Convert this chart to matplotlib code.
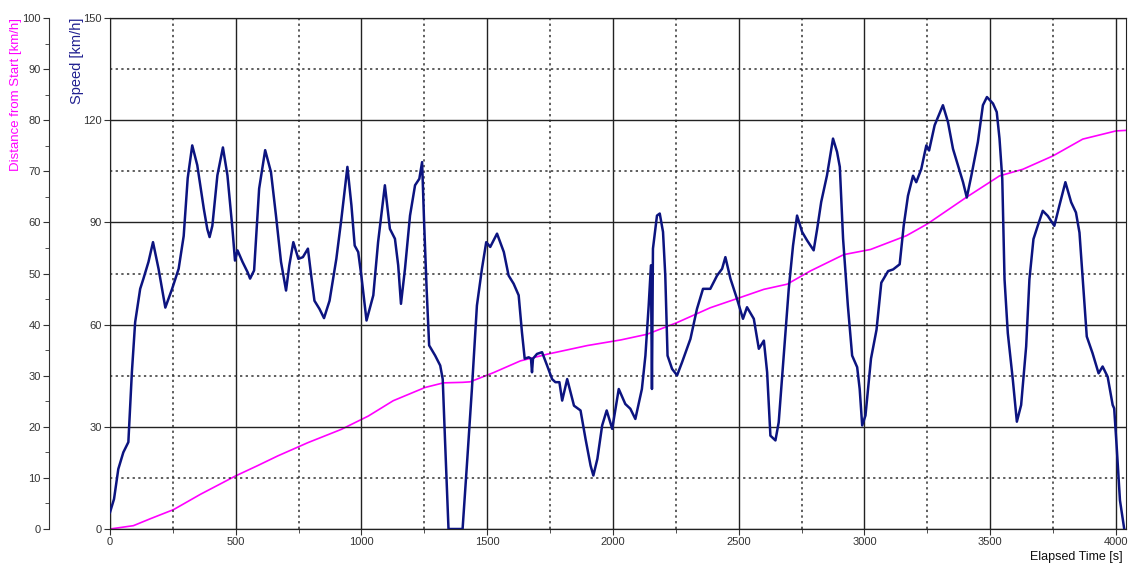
import numpy as np
import matplotlib.pyplot as plt
from matplotlib.ticker import MultipleLocator

plt.rcParams['font.family'] = ['Liberation Sans', 'DejaVu Sans']

# speed trace [s], [km/h]
t_speed = [0, 16, 33, 53, 73, 87, 100, 120, 133, 153, 171, 193, 220, 247, 273, 293, 309, 327, 347,
           373, 387, 396, 407, 427, 449, 467, 487, 497, 507, 527, 547, 557, 573, 593, 617, 640,
           660, 680, 700, 713, 729, 749, 767, 787, 800, 813, 833, 851, 873, 900, 920, 944, 960,
           973, 987, 1000, 1020, 1047, 1066, 1093, 1113, 1133, 1146, 1157, 1173, 1193, 1213,
           1230, 1241, 1249, 1259, 1269, 1293, 1313, 1323, 1332, 1346, 1402, 1419, 1439, 1459,
           1479, 1496, 1512, 1539, 1566, 1585, 1605, 1625, 1638, 1649, 1665, 1674, 1678, 1682,
           1698, 1718, 1738, 1758, 1771, 1787, 1798, 1818, 1845, 1871, 1891, 1911, 1922, 1938,
           1957, 1975, 1997, 2023, 2049, 2069, 2089, 2115, 2129, 2142, 2151, 2155, 2159, 2175,
           2186, 2199, 2208, 2217, 2235, 2255, 2275, 2308, 2334, 2358, 2387, 2414, 2434, 2447,
           2467, 2493, 2517, 2533, 2560, 2580, 2600, 2613, 2626, 2646, 2659, 2679, 2699, 2716,
           2732, 2752, 2772, 2798, 2812, 2828, 2851, 2875, 2891, 2902, 2915, 2934, 2951, 2971,
           2981, 2991, 3004, 3026, 3048, 3067, 3094, 3114, 3140, 3156, 3173, 3193, 3206, 3226,
           3246, 3257, 3279, 3312, 3332, 3352, 3372, 3392, 3407, 3425, 3451, 3471, 3487, 3511,
           3526, 3537, 3548, 3557, 3570, 3590, 3606, 3623, 3643, 3656, 3672, 3689, 3709, 3729,
           3755, 3775, 3799, 3822, 3841, 3855, 3868, 3884, 3907, 3931, 3947, 3967, 3987, 3993,
           4003, 4016, 4033]
speed = [4.9, 8.8, 17.6, 22.5, 25.5, 46, 60.7, 70.5, 73.5, 78.4, 84.2, 76.4, 65, 70.5, 76.4, 86,
         103, 112.6, 106.8, 94, 88, 85.7, 89, 103.8, 112, 103.8, 88, 78.8, 81.8, 78.4, 75.4, 73.5,
         75.9, 99.9, 111.2, 104.8, 92, 78.4, 70, 77.4, 84.2, 79.3, 79.8, 82.3, 74.4, 67, 64.6, 61.9,
         67, 79.3, 91, 106.3, 95, 83.2, 81.3, 74, 61.2, 68.6, 84.2, 100.9, 88.1, 85.2, 77.4, 66.1,
         76.4, 92, 100.9, 102.8, 107.7, 90, 70.5, 53.9, 50.9, 48, 44, 26.4, 0, 0, 18.6, 41, 65.6,
         76.4, 84.2, 82.8, 86.7, 81.3, 74.4, 72, 68.6, 57.8, 50, 50.4, 50, 46, 50, 51.4, 51.9, 48,
         44, 43.1, 43.1, 37.7, 44, 36.2, 34.8, 26.4, 18.6, 15.7, 20.6, 30.4, 34.8, 29.4, 41.1,
         36.7, 35.3, 32.3, 41.1, 50.9, 65.6, 77.4, 41.1, 82.3, 92, 92.6, 87.2, 74.4, 50.9, 47,
         45.1, 49, 55.8, 64.6, 70.5, 70.5, 74.4, 76.4, 79.8, 73.5, 67.6, 61.7, 65.1, 61.7, 52.9,
         55.3, 46, 27.4, 26, 31.3, 50.9, 70.5, 83.2, 92, 87.2, 84.7, 81.8, 88.1, 96, 103.8, 114.6,
         110.7, 106.3, 85.2, 65.6, 50.9, 47.5, 41.1, 30.4, 33.3, 50, 58.5, 72.3, 75.7, 76.2, 77.7,
         89, 97.8, 103.7, 101.8, 105.7, 112.6, 111.1, 118.5, 124.4, 119.5, 111.6, 106.7, 101.8,
         97.3, 103.7, 113.6, 124.4, 126.8, 124.9, 122.4, 114.6, 102.8, 73.3, 57.5, 43.8, 31.5,
         36.4, 53.6, 73.3, 85.1, 89, 93.4, 91.9, 89, 94.9, 101.8, 95.9, 92.9, 87, 73.3, 56.5,
         51.6, 45.7, 47.7, 44.7, 36.4, 35.4, 24.1, 8.4, 0]

# distance from start
t_dist = [0, 93, 160, 253, 360, 500, 587, 667, 787, 920, 1027, 1126, 1253, 1326, 1402, 1432,
          1525, 1632, 1738, 1898, 2031, 2135, 2255, 2387, 2500, 2600, 2692, 2785, 2918, 3024,
          3167, 3250, 3405, 3537, 3630, 3749, 3868, 4000, 4037]
dist = [0, 0.65, 2, 3.8, 6.8, 10.4, 12.4, 14.3, 16.9, 19.5, 22.1, 25.1, 27.7, 28.6, 28.7, 28.8,
        30.6, 32.9, 34.2, 35.9, 37, 38.1, 40.4, 43.3, 45.2, 46.9, 47.9, 50.5, 53.7, 54.7,
        57.4, 59.7, 64.9, 69.1, 70.4, 73, 76.3, 77.9, 78]

W, H = 1129, 567
fig = plt.figure(figsize=(W / 100, H / 100), dpi=100)
ax = fig.add_axes([110 / W, 38 / H, 1016 / W, 511 / H])
ax2 = ax.twinx()

txt = '#333333'
ax.set_xlim(0, 4040)
ax.set_ylim(0, 150)
ax.xaxis.set_major_locator(MultipleLocator(500))
ax.xaxis.set_minor_locator(MultipleLocator(250))
ax.yaxis.set_major_locator(MultipleLocator(30))
ax.yaxis.set_minor_locator(MultipleLocator(15))
ax.grid(which='major', color='#222222', lw=1.0, ls='-')
ax.grid(which='minor', color='#333333', lw=1.1, ls=(0, (1.5, 2.2)))
ax.set_axisbelow(True)
ax.tick_params(which='major', length=4, labelsize=8, colors=txt, pad=2)
ax.tick_params(axis='x', which='minor', length=3, color=txt)
ax.tick_params(axis='y', which='minor', length=0)
for s in ax.spines.values():
    s.set_color('#222222')

ax2.set_ylim(0, 100)
ax2.yaxis.set_ticks_position('left')
ax2.spines['left'].set_position(('outward', 61 * 0.72))
ax2.spines['left'].set_color(txt)
ax2.spines['right'].set_visible(False)
ax2.yaxis.set_major_locator(MultipleLocator(10))
ax2.yaxis.set_minor_locator(MultipleLocator(5))
ax2.tick_params(which='major', length=4, labelsize=8, colors=txt, pad=2)
ax2.tick_params(which='minor', length=3, color=txt)

ax2.plot(t_dist, dist, color='#ff00ff', lw=1.2, zorder=3)
ax.plot(t_speed, speed, color='#0c1480', lw=1.8, zorder=4)
ax.set_zorder(ax2.get_zorder() + 1)
ax.patch.set_visible(False)

fig.text(16.5 / W, 1 - 18 / H, 'Distance from Start [km/h]', rotation=90, color='#ff00ff',
         fontsize=9.5, ha='center', va='top')
fig.text(77 / W, 1 - 18 / H, 'Speed [km/h]', rotation=90, color='#202090',
         fontsize=10.5, ha='center', va='top')
fig.text(1123 / W, 1 - 557 / H, 'Elapsed Time [s]', color='#111111', fontsize=9,
         ha='right', va='center')

fig.savefig('out.png', dpi=100)
